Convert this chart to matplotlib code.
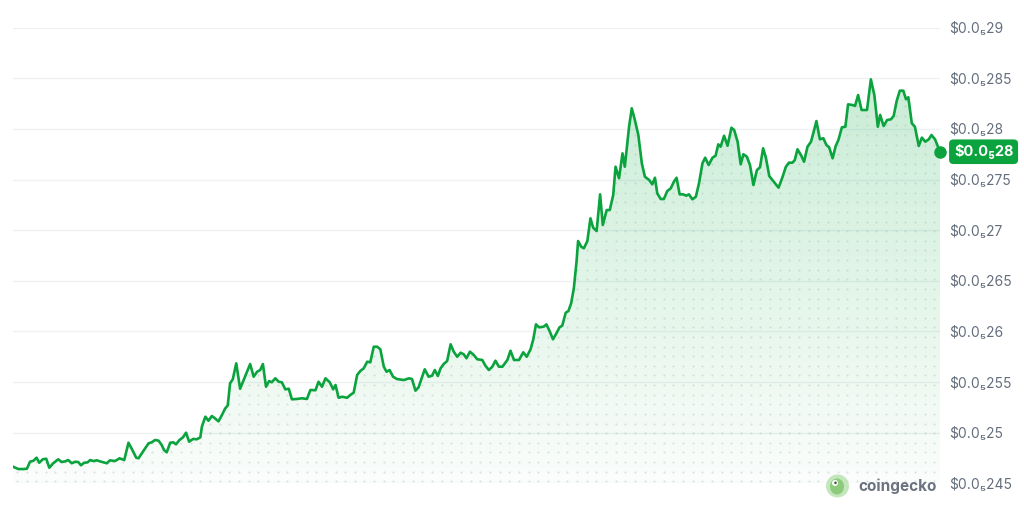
import numpy as np
import matplotlib
matplotlib.use("Agg")
import matplotlib.pyplot as plt
from matplotlib.patches import Circle, Ellipse

plt.rcParams['font.family'] = ['Inter', 'DejaVu Sans']

# 24h price, in millionths of a dollar ($0.0₅28 = $0.0000028)
hours = [
    0.00, 0.14, 0.27, 0.36, 0.44, 0.53, 0.61, 0.68, 0.77, 0.86,
    0.94, 1.04, 1.17, 1.26, 1.35, 1.43, 1.52, 1.61, 1.69, 1.76,
    1.84, 1.93, 2.00, 2.08, 2.17, 2.25, 2.43, 2.51, 2.64, 2.76,
    2.88, 2.99, 3.09, 3.19, 3.25, 3.38, 3.51, 3.59, 3.68, 3.77,
    3.85, 3.91, 3.98, 4.07, 4.15, 4.22, 4.31, 4.40, 4.48, 4.56,
    4.66, 4.76, 4.85, 4.89, 4.98, 5.06, 5.15, 5.24, 5.32, 5.41,
    5.49, 5.56, 5.62, 5.69, 5.78, 5.88, 5.99, 6.14, 6.23, 6.32,
    6.40, 6.47, 6.55, 6.63, 6.70, 6.79, 6.88, 6.96, 7.05, 7.14,
    7.22, 7.35, 7.48, 7.61, 7.70, 7.83, 7.91, 8.00, 8.09, 8.20,
    8.29, 8.35, 8.43, 8.52, 8.65, 8.73, 8.82, 8.91, 8.99, 9.08,
    9.17, 9.25, 9.34, 9.43, 9.51, 9.60, 9.67, 9.75, 9.84, 9.94,
    10.12, 10.25, 10.33, 10.42, 10.50, 10.66, 10.76, 10.85, 10.92, 11.00,
    11.07, 11.15, 11.24, 11.33, 11.41, 11.50, 11.59, 11.67, 11.74, 11.83,
    11.93, 12.02, 12.15, 12.23, 12.32, 12.41, 12.49, 12.58, 12.67, 12.80,
    12.88, 12.97, 13.10, 13.21, 13.30, 13.40, 13.47, 13.54, 13.62, 13.74,
    13.81, 13.90, 13.98, 14.07, 14.15, 14.22, 14.31, 14.38, 14.45, 14.52,
    14.59, 14.63, 14.71, 14.78, 14.87, 14.95, 15.02, 15.11, 15.20, 15.27,
    15.37, 15.45, 15.54, 15.60, 15.69, 15.78, 15.84, 15.95, 16.02, 16.10,
    16.19, 16.28, 16.36, 16.47, 16.55, 16.62, 16.68, 16.77, 16.85, 16.94,
    17.03, 17.11, 17.18, 17.26, 17.35, 17.43, 17.50, 17.59, 17.68, 17.76,
    17.85, 17.92, 18.01, 18.11, 18.19, 18.26, 18.32, 18.41, 18.50, 18.60,
    18.67, 18.76, 18.84, 18.91, 19.00, 19.08, 19.17, 19.26, 19.34, 19.42,
    19.49, 19.58, 19.66, 19.82, 19.92, 20.01, 20.09, 20.18, 20.24, 20.31,
    20.40, 20.48, 20.57, 20.66, 20.73, 20.80, 20.89, 20.98, 21.06, 21.13,
    21.22, 21.30, 21.37, 21.46, 21.55, 21.62, 21.74, 21.80, 21.88, 21.97,
    22.11, 22.21, 22.30, 22.39, 22.45, 22.54, 22.63, 22.73, 22.80, 22.88,
    22.96, 23.05, 23.12, 23.18, 23.27, 23.35, 23.45, 23.53, 23.62, 23.71,
    23.78, 23.87, 24.00,
]

price_micro = [
    2.4664, 2.4641, 2.4641, 2.4644, 2.4713, 2.4723, 2.4753, 2.4703, 2.4737, 2.4743,
    2.4654, 2.4698, 2.4737, 2.4710, 2.4717, 2.4730, 2.4698, 2.4713, 2.4710, 2.4678,
    2.4703, 2.4707, 2.4730, 2.4720, 2.4727, 2.4717, 2.4698, 2.4727, 2.4720, 2.4747,
    2.4730, 2.4901, 2.4829, 2.4753, 2.4747, 2.4822, 2.4895, 2.4905, 2.4928, 2.4921,
    2.4878, 2.4829, 2.4806, 2.4901, 2.4905, 2.4885, 2.4928, 2.4954, 2.5000, 2.4911,
    2.4938, 2.4935, 2.4954, 2.5059, 2.5158, 2.5118, 2.5165, 2.5138, 2.5112, 2.5175,
    2.5237, 2.5270, 2.5488, 2.5527, 2.5685, 2.5434, 2.5537, 2.5678, 2.5553, 2.5602,
    2.5619, 2.5678, 2.5454, 2.5510, 2.5498, 2.5537, 2.5503, 2.5498, 2.5428, 2.5434,
    2.5330, 2.5333, 2.5340, 2.5333, 2.5422, 2.5419, 2.5503, 2.5454, 2.5537, 2.5498,
    2.5428, 2.5471, 2.5345, 2.5355, 2.5345, 2.5372, 2.5395, 2.5570, 2.5609, 2.5636,
    2.5701, 2.5695, 2.5849, 2.5849, 2.5824, 2.5652, 2.5602, 2.5619, 2.5553, 2.5530,
    2.5520, 2.5537, 2.5530, 2.5415, 2.5448, 2.5626, 2.5553, 2.5563, 2.5619, 2.5560,
    2.5636, 2.5678, 2.5708, 2.5873, 2.5800, 2.5750, 2.5790, 2.5774, 2.5735, 2.5800,
    2.5767, 2.5725, 2.5718, 2.5662, 2.5619, 2.5652, 2.5711, 2.5652, 2.5652, 2.5718,
    2.5810, 2.5718, 2.5718, 2.5794, 2.5750, 2.5824, 2.5922, 2.6070, 2.6041, 2.6047,
    2.6070, 2.5997, 2.5922, 2.5982, 2.6041, 2.6057, 2.6185, 2.6202, 2.6278, 2.6426,
    2.6689, 2.6893, 2.6837, 2.6821, 2.6893, 2.7117, 2.7025, 2.6992, 2.7354, 2.7051,
    2.7199, 2.7199, 2.7348, 2.7627, 2.7513, 2.7759, 2.7627, 2.8022, 2.8204, 2.8088,
    2.7940, 2.7661, 2.7528, 2.7496, 2.7453, 2.7518, 2.7364, 2.7308, 2.7308, 2.7387,
    2.7414, 2.7479, 2.7518, 2.7354, 2.7354, 2.7341, 2.7354, 2.7305, 2.7331, 2.7463,
    2.7661, 2.7716, 2.7644, 2.7716, 2.7736, 2.7848, 2.7825, 2.7933, 2.7834, 2.8012,
    2.7990, 2.7874, 2.7651, 2.7750, 2.7726, 2.7644, 2.7446, 2.7594, 2.7621, 2.7809,
    2.7720, 2.7535, 2.7496, 2.7420, 2.7522, 2.7627, 2.7667, 2.7667, 2.7693, 2.7799,
    2.7743, 2.7676, 2.7825, 2.7874, 2.7973, 2.8078, 2.7898, 2.7908, 2.7841, 2.7819,
    2.7710, 2.7832, 2.7891, 2.8016, 2.8022, 2.8243, 2.8236, 2.8227, 2.8335, 2.8187,
    2.8187, 2.8490, 2.8335, 2.8022, 2.8138, 2.8029, 2.8088, 2.8095, 2.8128, 2.8279,
    2.8378, 2.8378, 2.8293, 2.8313, 2.8056, 2.8022, 2.7832, 2.7914, 2.7874, 2.7898,
    2.7940, 2.7898, 2.7775,
]

tick_values = [2.45, 2.50, 2.55, 2.60, 2.65, 2.70, 2.75, 2.80, 2.85, 2.90]
tick_labels = ["$0.0₅245", "$0.0₅25", "$0.0₅255", "$0.0₅26", "$0.0₅265",
               "$0.0₅27", "$0.0₅275", "$0.0₅28", "$0.0₅285", "$0.0₅29"]
current_label = "$0.0₅28"

GREEN = '#0aa33d'
GRAY = '#646e7d'

x = np.array(hours)
y = np.array(price_micro)

fig = plt.figure(figsize=(10.24, 5.14), dpi=100)
ax = fig.add_axes([13 / 1024, 0.0597, 927 / 1024, 0.8864])
ax.set_xlim(0, 24)
ax.set_ylim(2.45, 2.90)

# grid lines
for v in tick_values:
    ax.axhline(v, color='#eff1f4', lw=1, zorder=0)

# gradient fill under the line
poly = ax.fill_between(x, y, 2.45, color='none', lw=0)
clip = poly.get_paths()[0]
grad = np.zeros((256, 2, 4))
grad[..., 0] = 0.0
grad[..., 1] = 0.66
grad[..., 2] = 0.24
grad[..., 3] = np.linspace(0.24, 0.02, 256)[:, None]
img = ax.imshow(grad, extent=[0, 24, 2.45, 2.90], aspect='auto', origin='upper', zorder=1)
img.set_clip_path(clip, transform=ax.transData)

# dotted texture inside the fill
dx = np.arange(0.1, 24, 0.25)
dy = np.arange(2.452, 2.9, 0.0095)
gx, gy = np.meshgrid(dx, dy)
dots = ax.scatter(gx.ravel(), gy.ravel(), s=2.2, color='#9fb5a6', alpha=0.35, lw=0, zorder=2)
dots.set_clip_path(clip, transform=ax.transData)

ax.plot(x, y, color=GREEN, lw=1.9, zorder=3, solid_joinstyle='round')
ax.plot(x[-1], y[-1], 'o', color=GREEN, ms=8, zorder=4, clip_on=False)

ax.set_yticks(tick_values)
ax.set_yticklabels(tick_labels)
ax.yaxis.tick_right()
ax.tick_params(axis='y', length=0, pad=6.5, labelsize=10, labelcolor=GRAY)
ax.set_xticks([])
for s in ax.spines.values():
    s.set_visible(False)
ax.patch.set_alpha(0)

ax.annotate(current_label, xy=(1, y[-1]), xycoords=('axes fraction', 'data'),
            xytext=(10, 0), textcoords='offset points', va='center', ha='left',
            color='white', fontsize=10.5, fontweight='bold',
            bbox=dict(boxstyle='round,pad=0.33,rounding_size=0.3', fc=GREEN, ec='none'))

# coingecko mark
tr = fig.dpi_scale_trans
fig.patches.append(Circle((8.375, 0.28), 0.115, transform=tr, fc='#c4e6bd', ec='none'))
fig.patches.append(Ellipse((8.37, 0.275), 0.14, 0.16, transform=tr, fc='#8ccb7b', ec='none'))
fig.patches.append(Circle((8.35, 0.31), 0.03, transform=tr, fc='white', ec='none'))
fig.patches.append(Circle((8.355, 0.312), 0.013, transform=tr, fc='#3d5a3a', ec='none'))
fig.text(858 / 1024, 1 - 486 / 514, "coingecko", fontsize=11, fontweight='bold',
         color='#6b7280', va='center', ha='left')

fig.savefig('out.png', dpi=100, facecolor='white')
